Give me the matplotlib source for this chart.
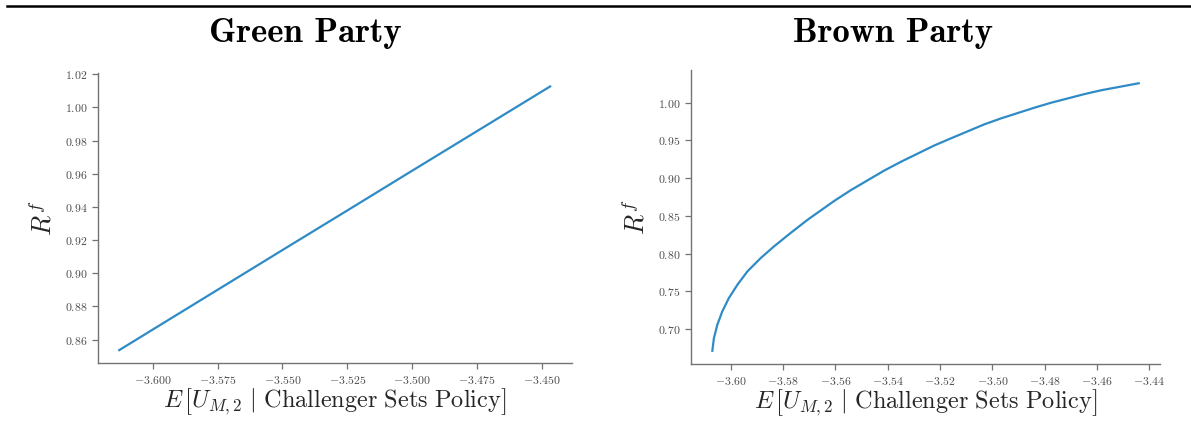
import numpy as np
import matplotlib
matplotlib.use("Agg")
import matplotlib.pyplot as plt
from matplotlib.lines import Line2D

# Computer Modern look for all text
plt.rcParams['font.family'] = 'serif'
plt.rcParams['font.serif'] = ['cmr10']
plt.rcParams['mathtext.fontset'] = 'cm'
plt.rcParams['axes.formatter.use_mathtext'] = True
plt.rcParams['axes.unicode_minus'] = True

# Green party: expected utility vs R^f
green_x = [-3.6129, -3.600, -3.575, -3.550, -3.525, -3.500, -3.475, -3.4469]
green_y = [0.8536, 0.8660, 0.8900, 0.9140, 0.9379, 0.9619, 0.9858, 1.0127]

# Brown party: expected utility vs R^f
brown_x = [-3.6070, -3.6064, -3.6051, -3.6032, -3.6007, -3.5974, -3.5936,
           -3.5885, -3.5834, -3.5771, -3.5707, -3.5605, -3.5541, -3.5414,
           -3.5350, -3.5223, -3.5159, -3.5031, -3.4967, -3.4840, -3.4776,
           -3.4649, -3.4585, -3.4441]
brown_y = [0.6714, 0.6881, 0.7058, 0.7235, 0.7411, 0.7589, 0.7765,
           0.7942, 0.8097, 0.8273, 0.8446, 0.8696, 0.8840, 0.9098,
           0.9215, 0.9430, 0.9525, 0.9711, 0.9790, 0.9931, 0.9997,
           1.0111, 1.0162, 1.0255]

line_color = '#2f8bc6'
axis_color = '0.45'
xlabel = r'$E\,\left[U_{M,2}\ \vert\ \mathrm{Challenger\ Sets\ Policy}\right]$'

fig = plt.figure(figsize=(11.91, 4.21), dpi=100)
ax1 = fig.add_axes([0.0820, 0.137, 0.398, 0.689])
ax2 = fig.add_axes([0.5802, 0.135, 0.3938, 0.699])

ax1.plot(green_x, green_y, color=line_color, lw=1.6)
ax2.plot(brown_x, brown_y, color=line_color, lw=1.6)

ax1.set_xticks([-3.600, -3.575, -3.550, -3.525, -3.500, -3.475, -3.450])
ax1.xaxis.set_major_formatter(matplotlib.ticker.FormatStrFormatter(r'$%.3f$'))
ax1.yaxis.set_major_formatter(matplotlib.ticker.FormatStrFormatter(r'$%.2f$'))
ax2.set_xticks(np.round(np.arange(-3.60, -3.439, 0.02), 2))
ax2.xaxis.set_major_formatter(matplotlib.ticker.FormatStrFormatter(r'$%.2f$'))
ax2.yaxis.set_major_formatter(matplotlib.ticker.FormatStrFormatter(r'$%.2f$'))
ax2.set_yticks([0.70, 0.75, 0.80, 0.85, 0.90, 0.95, 1.00])

for ax in (ax1, ax2):
    ax.spines['top'].set_visible(False)
    ax.spines['right'].set_visible(False)
    for s in ('left', 'bottom'):
        ax.spines[s].set_color(axis_color)
        ax.spines[s].set_linewidth(1.0)
    ax.tick_params(colors=axis_color, labelcolor='0.3', labelsize=8.5,
                   length=4, width=0.9, direction='out')
    ax.set_xlabel(xlabel, fontsize=17.5, color='0.15', labelpad=1)
    ax.set_ylabel(r'$R^f$', fontsize=19, color='0.15', labelpad=6)

fig.text(0.2565, 0.921, 'Green Party', family='cmb10', fontsize=25,
         ha='center', va='center')
fig.text(0.750, 0.921, 'Brown Party', family='cmb10', fontsize=25,
         ha='center', va='center')

# rule across the top
fig.add_artist(Line2D([7 / 1191, 1.0], [1 - 6 / 421, 1 - 6 / 421],
                      transform=fig.transFigure, color='black', lw=1.8))

fig.savefig('out.png', dpi=100)
